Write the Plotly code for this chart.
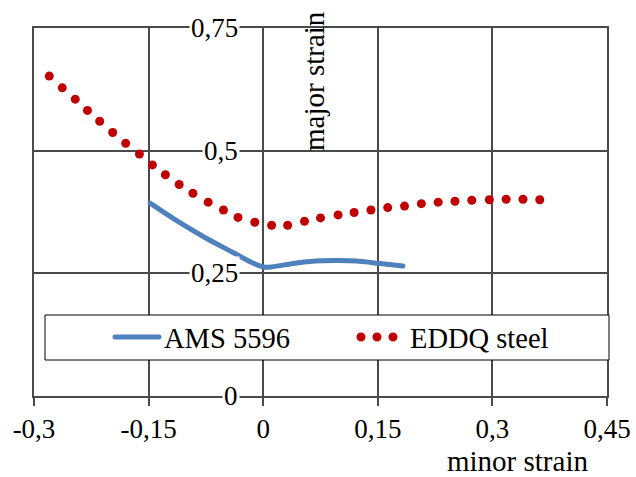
import plotly.graph_objects as go

# ---- data ----
x_tickvals = [-0.3, -0.15, 0, 0.15, 0.3, 0.45]
x_ticktext = ['-0,3', '-0,15', '0', '0,15', '0,3', '0,45']
y_tickvals = [0, 0.25, 0.5, 0.75]
y_ticktext = ['0', '0,25', '0,5', '0,75']

ams_x = [-0.148, -0.118, -0.074, -0.040, -0.015, 0.000, 0.010, 0.035, 0.061, 0.096, 0.122, 0.153, 0.183]
ams_y = [0.393, 0.362, 0.321, 0.293, 0.272, 0.263, 0.263, 0.269, 0.274, 0.276, 0.275, 0.270, 0.265]

eddq_x = [-0.280, -0.263, -0.246, -0.230, -0.214, -0.197, -0.180, -0.162, -0.145, -0.128,
          -0.110, -0.092, -0.072, -0.052, -0.033, -0.011, 0.011, 0.032, 0.054, 0.075,
          0.098, 0.119, 0.141, 0.163, 0.185, 0.207, 0.229, 0.251, 0.273, 0.296,
          0.318, 0.340, 0.362]
eddq_y = [0.652, 0.628, 0.605, 0.582, 0.560, 0.537, 0.515, 0.493, 0.471, 0.451,
          0.431, 0.413, 0.395, 0.379, 0.364, 0.354, 0.348, 0.348, 0.356, 0.363,
          0.369, 0.374, 0.379, 0.384, 0.387, 0.392, 0.395, 0.397, 0.399, 0.400,
          0.401, 0.401, 0.400]

FONT = 'Liberation Serif'
GRID = '#4a4a4a'
BLUE = '#4F81BD'
RED = '#C00000'

W, H = 636, 477
L, R, T, B = 34, 29, 28, 81
pw, ph = W - L - R, H - T - B


def px_x(p):
    return (p - L) / pw


def px_y(p):
    return (H - B - p) / ph


fig = go.Figure()
fig.add_trace(go.Scatter(x=ams_x, y=ams_y, mode='lines', name='AMS 5596',
                         line=dict(color=BLUE, width=5, shape='spline', smoothing=0.6)))
fig.add_trace(go.Scatter(x=eddq_x, y=eddq_y, mode='markers', name='EDDQ steel',
                         marker=dict(color=RED, size=9), showlegend=False))
fig.add_trace(go.Scatter(x=[None], y=[None], mode='lines', name='EDDQ steel',
                         line=dict(color=RED, width=9, dash='0px,16px')))

for v, t in zip(y_tickvals, y_ticktext):
    fig.add_annotation(x=0, y=v, xref='x', yref='y', text=t, showarrow=False,
                       xanchor='right', yanchor='middle', xshift=-23,
                       bgcolor='white', borderpad=1,
                       font=dict(family=FONT, size=27, color='black'))

fig.add_annotation(x=px_x(314), y=px_y(81), xref='paper', yref='paper', text='major strain',
                   showarrow=False, textangle=-90, xanchor='center', yanchor='middle',
                   font=dict(family=FONT, size=29, color='black'))
fig.add_annotation(x=px_x(517), y=px_y(461), xref='paper', yref='paper', text='minor strain',
                   showarrow=False, xanchor='center', yanchor='middle',
                   font=dict(family=FONT, size=29, color='black'))

# legend box
fig.add_shape(type='rect', xref='paper', yref='paper',
              x0=px_x(45), x1=px_x(609), y0=px_y(360), y1=px_y(315),
              fillcolor='white', line=dict(color='black', width=1), layer='above')

fig.update_layout(
    width=W, height=H,
    margin=dict(l=L, r=R, t=T, b=B, autoexpand=False),
    plot_bgcolor='white', paper_bgcolor='white',
    font=dict(family=FONT, size=27, color='black'),
    showlegend=True,
    legend=dict(orientation='h', x=px_x(110), xanchor='left',
                y=px_y(337.5), yanchor='middle', entrywidth=187, itemwidth=44,
                bgcolor='rgba(0,0,0,0)', borderwidth=0,
                font=dict(family=FONT, size=28.5, color='black')),
    xaxis=dict(range=[-0.3, 0.45], tickvals=x_tickvals, ticktext=x_ticktext,
               automargin=False,
               showgrid=True, gridcolor=GRID, gridwidth=1.5,
               zeroline=True, zerolinecolor=GRID, zerolinewidth=1.5,
               showline=True, mirror=True, linecolor=GRID, linewidth=1.5,
               ticks='outside', ticklen=8, tickcolor=GRID, tickwidth=1.5,
               tickfont=dict(family=FONT, size=27, color='black')),
    yaxis=dict(range=[0, 0.75], tickvals=y_tickvals, showticklabels=False,
               automargin=False,
               showgrid=True, gridcolor=GRID, gridwidth=1.5,
               zeroline=True, zerolinecolor=GRID, zerolinewidth=1.5,
               showline=True, mirror=True, linecolor=GRID, linewidth=1.5,
               ticks=''),
)

post = ("document.querySelectorAll('.legendlines path, path.js-line').forEach("
        "function(p){p.style.strokeLinecap='round';});")
fig.write_html("out.html", post_script=post)
